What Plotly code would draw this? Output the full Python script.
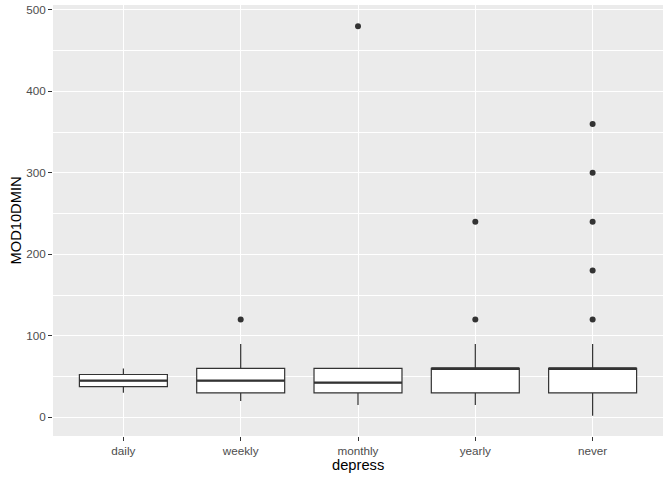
import plotly.graph_objects as go

categories = ["daily", "weekly", "monthly", "yearly", "never"]
q1 = [37.5, 30, 30, 30, 30]
median = [45, 45, 42.5, 60, 60]
q3 = [52.5, 60, 60, 60, 60]
lower_whisker = [30, 20, 15, 15, 2]
upper_whisker = [60, 90, 60, 90, 90]
outliers = {
    "daily": [],
    "weekly": [120],
    "monthly": [480],
    "yearly": [120, 240],
    "never": [120, 180, 240, 300, 360],
}
y_ticks = [0, 100, 200, 300, 400, 500]

pos = list(range(len(categories)))
half = 0.375
line_col = "#333333"

fig = go.Figure()
fig.add_trace(go.Box(
    x=pos, q1=q1, median=median, q3=q3,
    lowerfence=lower_whisker, upperfence=upper_whisker,
    width=2 * half, whiskerwidth=0,
    fillcolor="white", line=dict(color=line_col, width=1.2),
    boxpoints=False, showlegend=False, hoverinfo="skip",
))
# thicker medians (ggplot fatten)
for i, m in zip(pos, median):
    fig.add_trace(go.Scatter(
        x=[i - half, i + half], y=[m, m], mode="lines",
        line=dict(color=line_col, width=2.2), showlegend=False, hoverinfo="skip",
    ))
ox, oy = [], []
for i, c in enumerate(categories):
    for v in outliers[c]:
        ox.append(i)
        oy.append(v)
fig.add_trace(go.Scatter(
    x=ox, y=oy, mode="markers",
    marker=dict(color=line_col, size=6), showlegend=False,
))

fig.update_layout(
    width=672, height=480,
    margin=dict(l=53, r=9, t=5, b=44),
    plot_bgcolor="#EBEBEB", paper_bgcolor="white",
    font=dict(family="Liberation Sans, Arial, sans-serif"),
    annotations=[
        dict(text="depress", xref="paper", yref="paper", x=0.5, y=0,
             yshift=-29, yanchor="middle", showarrow=False,
             font=dict(size=14.7, color="black")),
        dict(text="MOD10DMIN", xref="paper", yref="paper", x=0, y=0.5,
             xshift=-38, xanchor="center", textangle=-90, showarrow=False,
             font=dict(size=14.7, color="black")),
    ],
)
fig.update_xaxes(
    range=[-0.6, 4.6], tickmode="array", tickvals=pos, ticktext=categories,
    showgrid=True, gridcolor="white", gridwidth=1.1, zeroline=False,
    ticks="outside", ticklen=4, tickcolor=line_col, tickwidth=1.1,
    tickfont=dict(size=11.7, color="#4D4D4D"), automargin=False,
    showline=False,
)
fig.update_yaxes(
    range=[-23, 506], tickmode="array", tickvals=y_ticks,
    showgrid=True, gridcolor="white", gridwidth=1.1, zeroline=False,
    minor=dict(dtick=50, tick0=0, showgrid=True, gridcolor="white", gridwidth=0.55),
    ticks="outside", ticklen=4, tickcolor=line_col, tickwidth=1.1,
    tickfont=dict(size=11.7, color="#4D4D4D"), automargin=False,
    showline=False,
)

fig.write_html("out.html", config={"displayModeBar": False},
               post_script="document.body.style.margin='0';")
